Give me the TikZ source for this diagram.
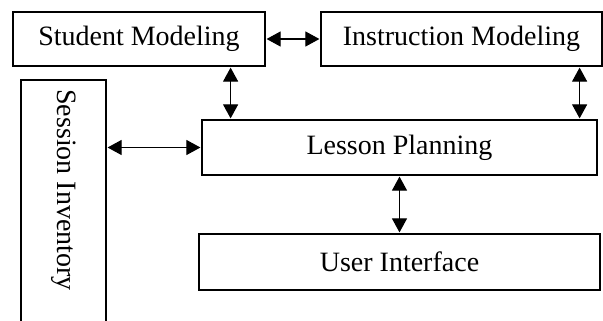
\documentclass[tikz,border=0pt]{standalone}
\usepackage{fontspec}
\setmainfont{Liberation Serif}
\usetikzlibrary{arrows.meta}

\tikzset{
	box/.style={draw, line width=1.2pt, rectangle, inner sep=0pt},
	biarrow/.style={{Triangle[length=14pt,width=15pt]}-{Triangle[length=14pt,width=15pt]}, line width=1.1pt, shorten <=1pt, shorten >=1pt}
}

\begin{document}
\begin{tikzpicture}[x=1pt, y=-1pt, font=\fontsize{28}{31}\selectfont]
			\clip (0,0) rectangle (603,321);
			% Define nodes
			\node[box, minimum width=252pt, minimum height=54pt] (student) at (139,39) {Student Modeling};        % Top left
			\node[box, minimum width=281pt, minimum height=54pt] (instruction) at (461.5,39) {Instruction Modeling}; % Top right
			\node[box, minimum width=85pt, minimum height=260pt] (session) at (63.5,210) {};                      % Left column
			\node[rotate=-90] (sessiontext) at (63.5,190) {Session Inventory};
			\node[box, minimum width=395pt, minimum height=55pt] (lesson) at (399.5,147.5) {Lesson Planning};     % Middle
			\node[box, minimum width=401pt, minimum height=56pt] (ui) at (399.5,262) {User Interface};           % Bottom
			
			% Connect nodes with double arrows
			\draw[biarrow] (student.east) -- (instruction.west);
			\draw[biarrow] ([xshift=-35pt]student.south east) -- ([xshift=-35pt]student.south east |- lesson.north);
			\draw[biarrow] ([xshift=-18pt]lesson.north east |- instruction.south) -- ([xshift=-18pt]lesson.north east);
			\draw[biarrow] (lesson.west -| session.east) -- (lesson.west);
			\draw[biarrow] (lesson.south) -- (ui.north);
		\end{tikzpicture}
\end{document}
